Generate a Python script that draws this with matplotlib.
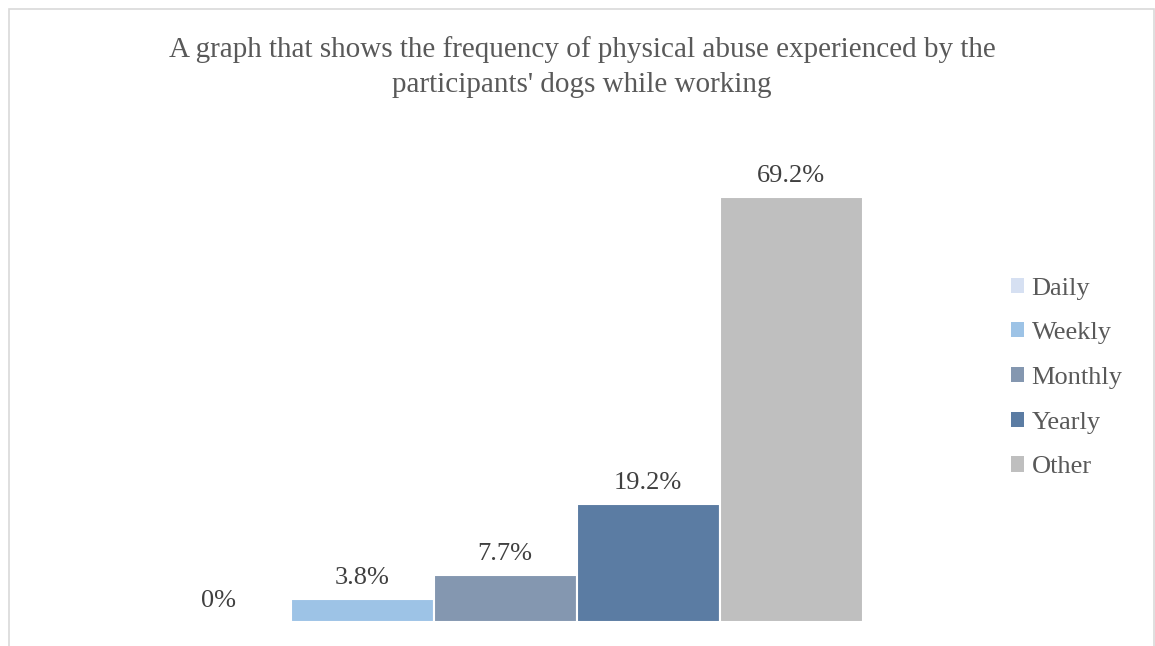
import matplotlib.pyplot as plt
from matplotlib.patches import Patch

# data
categories = ['Daily', 'Weekly', 'Monthly', 'Yearly', 'Other']
percent = [0, 3.8, 7.7, 19.2, 69.2]
labels = ['0%', '3.8%', '7.7%', '19.2%', '69.2%']
colors = ['#D6E0F2', '#9DC3E6', '#8497B0', '#5B7CA3', '#BFBFBF']

plt.rcParams['font.family'] = ['Liberation Serif', 'DejaVu Serif']

fig = plt.figure(figsize=(11.55, 6.46), dpi=100)
W, H = 1155, 646

# light frame around the chart area (bottom edge is cut off in the reference)
frame = plt.Rectangle((9 / W, -0.05), 1145 / W, (646 - 9) / H + 0.05,
                      transform=fig.transFigure, fill=False,
                      edgecolor='#D9D9D9', linewidth=1.2)
fig.add_artist(frame)

ax = fig.add_axes([147.5 / W, (H - 622) / H, 715 / W, 460.6 / H])
x = range(len(categories))
bars = ax.bar(x, percent, width=1.0, color=colors, edgecolor='white', linewidth=1.5)
ax.set_xlim(-0.5, 4.5)
ax.set_ylim(0, 75)
ax.axis('off')

for xi, val, lab in zip(x, percent, labels):
    ax.annotate(lab, (xi, val), xytext=(0, 7), textcoords='offset points',
                ha='center', va='bottom', fontsize=19, color='#404040')

fig.text(582 / W, 1 - 67 / H,
         "A graph that shows the frequency of physical abuse experienced by the\n"
         "participants' dogs while working",
         ha='center', va='center', fontsize=21, color='#595959',
         linespacing=1.45)

handles = [Patch(facecolor=c, edgecolor='none') for c in colors]
fig.legend(handles, categories, loc='center left',
           bbox_to_anchor=(1000 / W, 1 - 378 / H), frameon=False,
           fontsize=19, handlelength=0.5, handleheight=0.5, handletextpad=0.3,
           labelspacing=0.86, labelcolor='#595959', borderaxespad=0)

fig.savefig('out.png', dpi=100, facecolor='white')
